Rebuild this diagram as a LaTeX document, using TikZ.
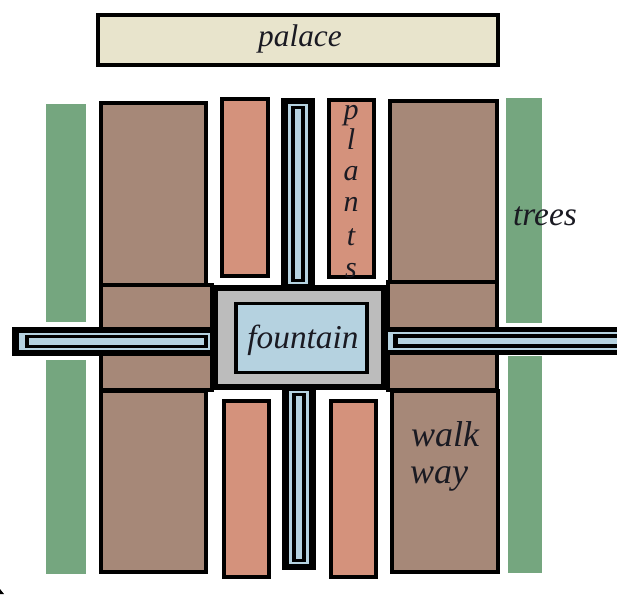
\documentclass[tikz,border=0pt]{standalone}
\usepackage{fontspec}
\setmainfont{Liberation Serif}
\tikzset{
  blk/.style={draw=black,line width=3pt,line join=miter},
  palacebox/.style={blk,fill=palacec},
  treebox/.style={fill=treec,draw=none},
  walkbox/.style={blk,fill=walkc},
  plantbox/.style={blk,fill=plantc},
  solid fillblack/.style={fill=black,draw=none},
  waterbox/.style={fill=waterc,draw=none},
  greybox/.style={fill=greyc,draw=none},
  lbl/.style={inner sep=0pt,text=labelc,anchor=base},
  bigtxt/.style={lbl,font=\itshape\fontsize{23.5}{24}\selectfont},
  midtxt/.style={lbl,font=\itshape\fontsize{25}{25}\selectfont},
  lettertxt/.style={lbl,font=\itshape\fontsize{22.5}{23}\selectfont},
}
\definecolor{palacec}{HTML}{E8E4CC}
\definecolor{treec}{HTML}{75A67F}
\definecolor{walkc}{HTML}{A68878}
\definecolor{plantc}{HTML}{D4927C}
\definecolor{waterc}{HTML}{B5D2E0}
\definecolor{greyc}{HTML}{BCBCBC}
\definecolor{labelc}{HTML}{1A1A22}
\newcommand{\rr}[5][]{\path[#1] (#2,#3) rectangle (#4,#5);}
\newcommand{\chanV}[4]{% x0 y0 x1 y1 (outer)
  \fill[black] (#1,#2) rectangle (#3,#4);
  \fill[waterc] ({#1+7},{#2+6}) rectangle ({#3-7},{#4-6});
  \fill[black] ({#1+10},{#2+8}) rectangle ({#3-10},{#4-8});
  \fill[waterc] ({#1+14},{#2+11}) rectangle ({#3-14},{#4-11});
}
\newcommand{\chanH}[4]{%
  \fill[black] (#1,#2) rectangle (#3,#4);
  \fill[waterc] ({#1+7},{#2+6}) rectangle ({#3-5},{#4-6});
  \fill[black] ({#1+13},{#2+8}) rectangle ({#3-7},{#4-8});
  \fill[waterc] ({#1+17},{#2+11}) rectangle ({#3-11},{#4-11});
}
\begin{document}
\begin{tikzpicture}[x=0.75pt,y=-0.75pt]
\useasboundingbox[fill=white] (0,0) rectangle (617,594);
% palace
\rr[palacebox]{98}{15}{498}{65}
% trees
\rr[treebox]{46}{104}{86}{322}
\rr[treebox]{46}{360}{86}{574}
\rr[treebox]{506}{98}{542}{323}
\rr[treebox]{508}{356}{542}{573}
% walkways
\rr[walkbox]{101}{103}{206}{285}
\rr[walkbox]{101}{285}{212}{390}
\rr[walkbox]{101}{391}{206}{572}
\rr[walkbox]{390}{101}{497}{282}
\rr[walkbox]{388}{282}{497}{390}
\rr[walkbox]{392}{391}{498}{572}
% plants
\rr[plantbox]{222}{99}{268}{276}
\rr[plantbox]{329}{100}{374}{277}
\rr[plantbox]{224}{401}{269}{577}
\rr[plantbox]{331}{401}{376}{577}
% channels
\chanV{281}{98}{315}{290}
\chanV{282}{385}{316}{570}
\chanH{12}{327}{215}{356}
\fill[black] (386,327) rectangle (617,355);
\fill[waterc] (388,332) rectangle (617,350);
\fill[black] (393,334) rectangle (617,348);
\fill[waterc] (398,338) rectangle (617,344);
% fountain
\rr[solid fillblack]{211}{285}{387}{390}
\rr[greybox]{218}{291}{381}{384}
\rr[solid fillblack]{234}{302}{369}{374}
\rr[waterbox]{238}{305}{365}{371}
% stray mark
\fill[black] (0,589) -- (4,594) -- (0,594) -- cycle;
% labels
\node[bigtxt] (palace) at (300,46) {palace};
\node[midtxt] (fountain) at (303,348) {fountain};
\node[midtxt] (trees) at (545,225) {trees};
\node[lbl,font=\itshape\fontsize{27}{27}\selectfont] (walk) at (445,446) {walk};
\node[lbl,font=\itshape\fontsize{27}{27}\selectfont] (way) at (439,483) {way};
\node[lettertxt] (p) at (351,119) {p};
\node[lettertxt] (l) at (351,149) {l};
\node[lettertxt] (a) at (351,180) {a};
\node[lettertxt] (n) at (351,211) {n};
\node[lettertxt] (t) at (351,245) {t};
\node[lettertxt] (s) at (351,277) {s};
\end{tikzpicture}
\end{document}
